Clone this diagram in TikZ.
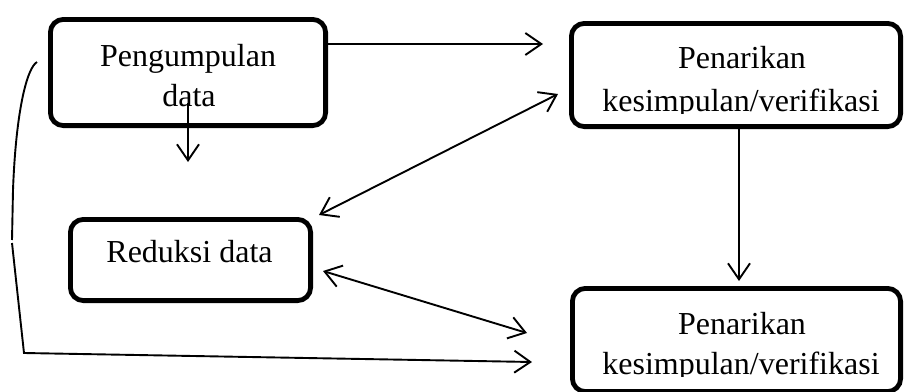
\documentclass[tikz,border=0pt]{standalone}
\usepackage{fontspec}
\setmainfont{Liberation Serif}
\usetikzlibrary{arrows.meta}
\tikzset{
  box/.style={draw, line width=4.8pt, rounded corners=13pt, inner sep=0pt},
  txt/.style={anchor=base, inner sep=0pt, font=\fontsize{32pt}{38pt}\selectfont},
  conn/.style={line width=1.9pt},
  tipv/.tip={Straight Barb[length=16pt,width=22pt,line width=1.9pt]},
  arr/.style={conn, -{tipv}},
  darr/.style={conn, {tipv}-{tipv}}
}
\begin{document}
\begin{tikzpicture}[x=1pt,y=-1pt]
\useasboundingbox (0,0) rectangle (905,391);
\clip (0,0) rectangle (905,391);
% boxes
\node[box, minimum width=275.2pt, minimum height=106.2pt] (b1) at (188,72.5) {};
\node[box, minimum width=329.2pt, minimum height=103.2pt] (b2) at (736,75) {};
\node[box, minimum width=328.2pt, minimum height=103.2pt] (b3) at (736.5,340) {};
\node[box, minimum width=240.2pt, minimum height=81.2pt] (b4) at (190.5,260) {};
% texts
\node[txt] (p1) at (188,66) {Pengumpulan};
\node[txt] (p2) at (189,106) {data};
\node[txt] (r1) at (189.5,262) {Reduksi data};
\begin{scope}
\clip (560,0) rectangle (905,113);
\node[txt] (k1) at (742,68) {Penarikan};
\node[txt] (k2) at (741,111) {kesimpulan/verifikasi};
\end{scope}
\begin{scope}
\clip (560,280) rectangle (905,376);
\node[txt] (m1) at (742,334) {Penarikan};
\node[txt] (m2) at (741,374) {kesimpulan/verifikasi};
\end{scope}
% free ends
\coordinate (t1) at (543,44);
\coordinate (d0) at (188,103);
\coordinate (d1) at (188,162);
\coordinate (u1) at (558,94);
\coordinate (u2) at (319,215);
\coordinate (v1) at (323,271);
\coordinate (v2) at (527,333);
\coordinate (w0) at (739,129);
\coordinate (w1) at (739,281);
\coordinate (l0) at (37,62);
\coordinate (l1) at (13,190);
\coordinate (l2) at (12,240);
\coordinate (l3) at (12,243);
\coordinate (l4) at (24,353);
\coordinate (t5) at (532,362);
% connectors
\draw[arr] (b1.east |- t1) -- (t1);
\draw[arr] (d0) -- (d1);
\draw[darr] (u2) -- (u1);
\draw[darr] (v1) -- (v2);
\draw[arr] (b2.south -| w0) -- (w1);
\draw[conn] (l0) .. controls (27,68) and (16,110) .. (l1) -- (l2);
\draw[arr] (l3) -- (l4) -- (t5);
\end{tikzpicture}
\end{document}
